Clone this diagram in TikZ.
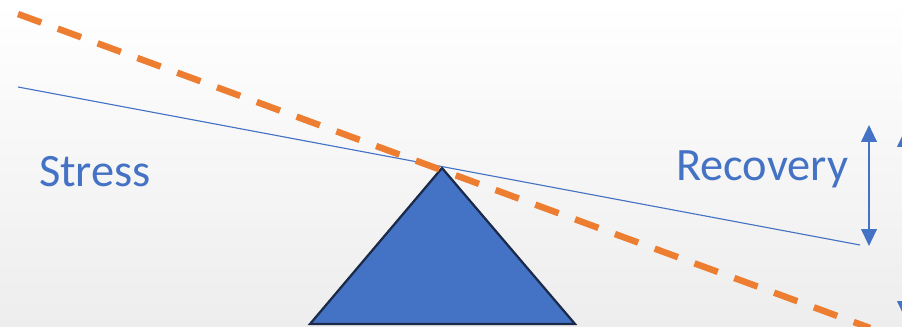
\documentclass[tikz,border=0pt]{standalone}
\usepackage{fontspec}
\setmainfont{Carlito}
\usetikzlibrary{arrows.meta}
\definecolor{accblue}{HTML}{4472C4}
\definecolor{accorange}{HTML}{ED7D31}
\definecolor{navy}{HTML}{1A2A48}
\begin{document}
\begin{tikzpicture}[x=0.025cm,y=-0.025cm,>={Triangle[width=11pt,length=12pt]}]
\useasboundingbox (0,0) rectangle (902,327);
\clip (0,0) rectangle (902,327);
\shade[top color=white, bottom color=black!7] (0,0) rectangle (902,327);
% lever and fulcrum
\coordinate (lft) at (18,87);
\coordinate (rgt) at (860,245);
\coordinate (tip) at (442,168);
\coordinate (bl) at (310,324);
\coordinate (br) at (575,324);
\filldraw[fill=accblue, draw=navy, line width=1.6pt, line join=miter] (tip) -- (br) -- (bl) -- cycle;
\draw[accblue, line width=0.8pt] (lft) -- (rgt);
\coordinate (olft) at (18,14);
\coordinate (orgt) at (870,328);
\draw[accorange, line width=4.6pt, dash pattern=on 0.62cm off 0.44cm] (olft) -- (orgt);
% labels
\node[text=accblue, font=\fontsize{33}{36}\selectfont] (stress) at (95,172) {Stress};
\node[text=accblue, font=\fontsize{33}{36}\selectfont] (recov) at (762,169) {Recovery};
% arrows
\coordinate (a1) at (869,125);
\coordinate (a2) at (869,246);
\coordinate (b1) at (905,130);
\coordinate (b2) at (905,318);
\draw[<->, accblue, line width=1.6pt] (a1) -- (a2);
\draw[<->, accblue, line width=1.6pt] (b1) -- (b2);
\end{tikzpicture}
\end{document}
